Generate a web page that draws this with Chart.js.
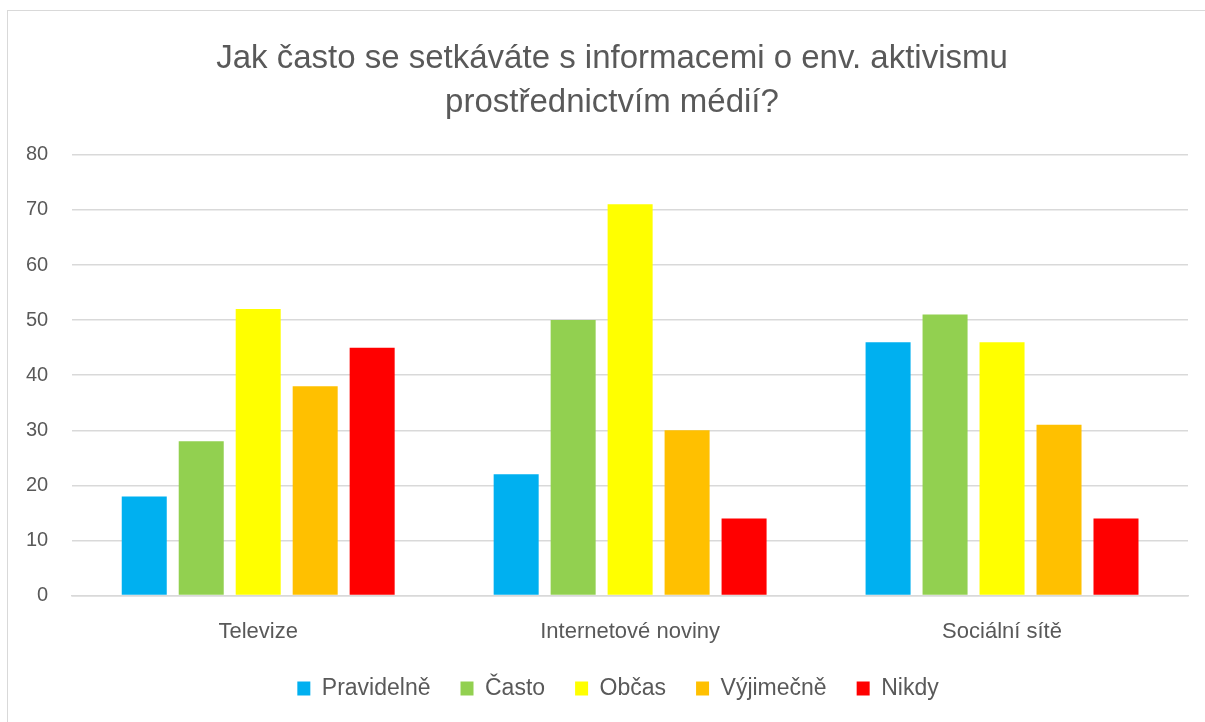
<!DOCTYPE html>
<html>
<head>
<meta charset="utf-8">
<script src="https://cdn.jsdelivr.net/npm/chart.js@4/dist/chart.umd.min.js"></script>
<style>
  html, body { margin: 0; padding: 0; background: #fff; overflow: hidden; width: 1205px; height: 722px; }
  #wrap { position: absolute; left: 7px; top: 10px; width: 1240px; height: 760px; border: 1.5px solid #d9d9d9; box-sizing: border-box; }
  #c { position: absolute; left: 0; top: 0; }
</style>
</head>
<body>
<div id="wrap"></div>
<canvas id="c" width="1205" height="722"></canvas>
<script>
// === Dados ===
const kategorie = ["Televize", "Internetové noviny", "Sociální sítě"];
const pravidelne = [18, 22, 46];
const casto = [28, 50, 51];
const obcas = [52, 71, 46];
const vyjimecne = [38, 30, 31];
const nikdy = [45, 14, 14];
const titulek = ["Jak často se setkáváte s informacemi o env. aktivismu", "prostřednictvím médií?"];

const textColor = "#595959";
const fontFamily = "'Liberation Sans', Arial, sans-serif";

function serie(label, data, color) {
  return { label, data, backgroundColor: color, borderWidth: 0, barPercentage: 0.79, categoryPercentage: 0.766 };
}

// o quadro original é mais largo que a janela: deslocar título e legenda
const deslocarBlocos = {
  id: "deslocarBlocos",
  afterLayout(chart) {
    chart.titleBlock.left += 17;
    chart.titleBlock.right += 17;
    chart.legend.left += 23;
    chart.legend.right += 23;
  }
};

const ctx = document.getElementById("c").getContext("2d");
new Chart(ctx, {
  type: "bar",
  data: {
    labels: kategorie,
    datasets: [
      serie("Pravidelně", pravidelne, "#00b0f0"),
      serie("Často", casto, "#92d050"),
      serie("Občas", obcas, "#ffff00"),
      serie("Výjimečně", vyjimecne, "#ffc000"),
      serie("Nikdy", nikdy, "#ff0000")
    ]
  },
  plugins: [deslocarBlocos],
  options: {
    responsive: false,
    animation: false,
    layout: { padding: { left: 2, right: 17, top: 37, bottom: 12 } },
    scales: {
      x: {
        grid: { display: false, tickLength: 21 },
        border: { color: "#d9d9d9", width: 1.5 },
        ticks: { color: textColor, font: { family: fontFamily, size: 22 }, padding: 2 }
      },
      y: {
        min: 0, max: 80,
        ticks: { stepSize: 10, color: textColor, font: { family: fontFamily, size: 20 }, padding: 24 },
        grid: { color: "#d9d9d9", lineWidth: 1.5, drawTicks: false },
        border: { display: false }
      }
    },
    plugins: {
      title: {
        display: true,
        text: titulek,
        color: textColor,
        font: { family: fontFamily, size: 33, weight: "normal", lineHeight: 1.33 },
        padding: { top: 0, bottom: 30 }
      },
      legend: {
        position: "bottom",
        labels: { color: textColor, font: { family: fontFamily, size: 23 }, boxWidth: 13, boxHeight: 14, padding: 30 }
      },
      tooltip: { enabled: false }
    }
  }
});
</script>
</body>
</html>
